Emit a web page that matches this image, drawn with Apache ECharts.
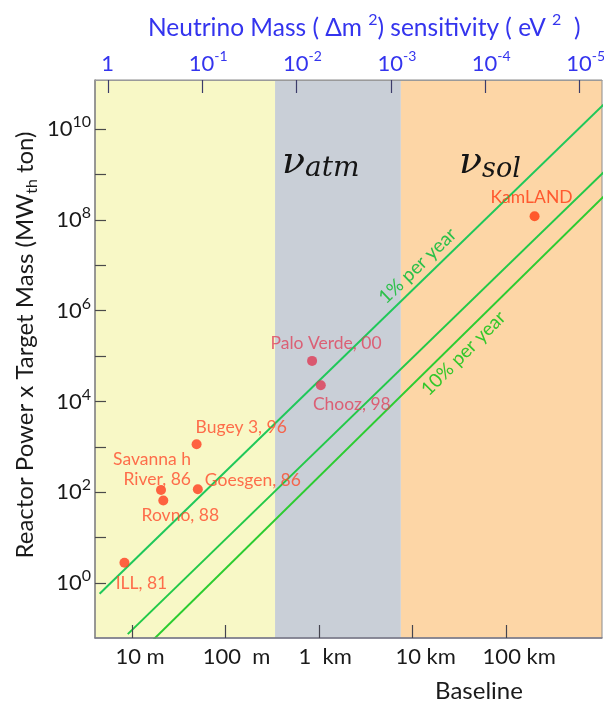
<!DOCTYPE html>
<html>
<head>
<meta charset="utf-8">
<script src="https://cdn.jsdelivr.net/npm/echarts@6/dist/echarts.min.js"></script>
<style>
  html, body { margin: 0; padding: 0; background: #ffffff; }
  #chart { width: 604px; height: 706px; }
</style>
</head>
<body>
<div id="chart"></div>
<script>
// Reactor neutrino experiments: baseline (m) vs reactor power x target mass (MW_th ton)
const experimentNames = ['ILL, 81', 'Savanna h\nRiver, 86', 'Rovno, 88', 'Bugey 3, 96', 'Goesgen, 86', 'Palo Verde, 00', 'Chooz, 98', 'KamLAND'];
const baselines = [8.3, 20.4, 21.6, 49, 50.5, 841, 1042, 201000];
const powerMass = [2.8, 112, 66, 1140, 117, 78200, 22800, 1.2e8];

// Sensitivity lines: [baseline (m), power x mass] end points
const line1pct = [[4.5, 0.58], [1.2e6, 4.1e10]];
const lineMiddle = [[9, 0.075], [1.2e6, 1.33e9]];
const line10pct = [[15.8, 0.0495], [1.2e6, 3.9e8]];
// Positions of the line captions: [baseline (m), power x mass]
const caption1pct = [11300, 9.66e6];
const caption10pct = [34900, 1.14e5];

// Region boundaries along the baseline (m)
const regionEdges = [338, 7480];

// Axis ticks
const baselineTicks = [10, 100, 1000, 10000, 100000];
const baselineTickLabels = ['10 m', '100  m', '1  km', '10 km', '100 km'];
const powerTicks = [1, 1e1, 1e2, 1e3, 1e4, 1e5, 1e6, 1e7, 1e8, 1e9, 1e10];
const powerLabelTicks = [1, 1e2, 1e4, 1e6, 1e8, 1e10];
const dm2Ticks = [1, 1e-1, 1e-2, 1e-3, 1e-4, 1e-5];

// ---- layout and styles ----
const X_MIN = 4.02, X_MAX = 1.057e6;
const Y_MIN = 0.0617, Y_MAX = 1.2e11;
const DM_MIN = 5.79e-6, DM_MAX = 1.365;
const FONT = 'Lato, "Open Sans", sans-serif';
const SERIF = '"DejaVu Serif", "Liberation Serif", serif';
const BLUE = '#3434ee';
const INK = '#1a1a1a';
const pointColors = ['#ff3c1e', '#ff3c1e', '#ff3c1e', '#ff3c1e', '#ff3c1e', '#de3a55', '#de3a55', '#ff3a0e'];
const labelColors = ['#ff4a2a', '#ff4a2a', '#ff4a2a', '#ff4a2a', '#ff4a2a', '#e0445c', '#e0445c', '#ff3a12'];
const labelLayout = [
  { offset: [17, 21], align: 'center' },
  { offset: [30, -21], align: 'right' },
  { offset: [17, 15], align: 'center' },
  { offset: [-1, -17], align: 'left' },
  { offset: [7, -9], align: 'left' },
  { offset: [14, -18], align: 'center' },
  { offset: [31, 19], align: 'center' },
  { offset: [-3, -19], align: 'center' }
];
const bottomLabelShift = [16, 22, 12, 26, 26];

function powLabel(v) {
  const e = Math.round(Math.log10(v));
  return '{b|10}{s|' + e + '}';
}

const bottomRich = {};
bottomLabelShift.forEach(function (p, i) {
  bottomRich['r' + i] = { fontSize: 22, fontFamily: FONT, color: INK, padding: [0, 0, 0, p] };
});

const chart = echarts.init(document.getElementById('chart'), null, { renderer: 'canvas' });

// Bands sit on the base layer; axes, lines and points are drawn on a layer above them.
const TOP = 1;

const option = {
  backgroundColor: '#ffffff',
  animation: false,
  grid: {
    left: 95, right: 2, top: 80, bottom: 68, zlevel: TOP,
    outerBoundsMode: 'none', containLabel: false,
    show: true, borderColor: '#8c8c8c', borderWidth: 1, backgroundColor: 'transparent'
  },
  xAxis: [
    {
      type: 'log', position: 'bottom', min: X_MIN, max: X_MAX, zlevel: TOP, z: 10,
      axisLine: { show: true, lineStyle: { color: '#7a7a8a', width: 1.5 } },
      axisTick: { show: true, inside: true, length: 13, customValues: baselineTicks, lineStyle: { color: '#45454f', width: 1.2 } },
      axisLabel: {
        customValues: baselineTicks, margin: 8,
        formatter: function (v) {
          const i = Math.round(Math.log10(v)) - 1;
          return '{r' + i + '|' + baselineTickLabels[i] + '}';
        },
        rich: bottomRich
      },
      splitLine: { show: false }, minorTick: { show: false }
    },
    {
      type: 'log', position: 'top', inverse: true, min: DM_MIN, max: DM_MAX, zlevel: TOP, z: 10,
      axisLine: { show: true, lineStyle: { color: '#9a9a9a', width: 1 } },
      axisTick: { show: true, inside: true, length: 13, customValues: dm2Ticks, lineStyle: { color: '#3c3c6a', width: 1.2 } },
      axisLabel: {
        customValues: dm2Ticks, margin: 1,
        formatter: function (v) {
          if (Math.abs(v - 1) < 1e-9) return '{b|1}';
          return '{p|10}{s|' + Math.round(Math.log10(v)) + '}';
        },
        rich: {
          b: { fontSize: 22, fontFamily: FONT, color: BLUE, lineHeight: 30 },
          p: { fontSize: 22, fontFamily: FONT, color: BLUE, lineHeight: 30, padding: [0, 0, 0, 12] },
          s: { fontSize: 14, fontFamily: FONT, color: BLUE, lineHeight: 17, verticalAlign: 'top' }
        }
      },
      splitLine: { show: false }
    }
  ],
  yAxis: {
    type: 'log', min: Y_MIN, max: Y_MAX, zlevel: TOP, z: 10,
    axisLine: { show: true, lineStyle: { color: '#8a8a8a', width: 1.5 } },
    axisTick: { show: true, inside: true, length: 11, customValues: powerTicks, lineStyle: { color: '#4a4a4a', width: 1.2 } },
    axisLabel: {
      customValues: powerLabelTicks, margin: 4,
      formatter: powLabel,
      rich: {
        b: { fontSize: 22, fontFamily: FONT, color: INK, lineHeight: 30 },
        s: { fontSize: 16, fontFamily: FONT, color: INK, lineHeight: 18, verticalAlign: 'top' }
      }
    },
    splitLine: { show: false }
  },
  graphic: [
    {
      type: 'text', x: 148, y: 28, z: 10,
      style: {
        text: '{t|Neutrino Mass ( \u0394m }{s|2}{t|) sensitivity ( eV }{s|2}{t|  )}',
        verticalAlign: 'middle',
        rich: {
          t: { fontSize: 24.5, fontFamily: FONT, fill: BLUE, lineHeight: 32 },
          s: { fontSize: 16, fontFamily: FONT, fill: BLUE, lineHeight: 18, verticalAlign: 'top' }
        }
      }
    },
    {
      type: 'text', x: 25, y: 345, rotation: Math.PI / 2, z: 10,
      style: {
        text: '{t|Reactor Power x Target Mass (MW}{u|th}{t| ton)}',
        align: 'center', verticalAlign: 'middle',
        rich: {
          t: { fontSize: 24, fontFamily: FONT, fill: INK, lineHeight: 30 },
          u: { fontSize: 16, fontFamily: FONT, fill: INK, lineHeight: 18, verticalAlign: 'bottom' }
        }
      }
    },
    {
      type: 'text', x: 479, y: 691, z: 10,
      style: { text: 'Baseline', align: 'center', verticalAlign: 'middle', fontSize: 24, fontFamily: FONT, fill: INK }
    },
    {
      type: 'text', x: 282, y: 163, z: 10,
      style: {
        text: '{n|\u03bd}{a|atm}', verticalAlign: 'middle',
        rich: {
          n: { fontSize: 38, fontFamily: SERIF, fontStyle: 'italic', fill: '#151515', lineHeight: 40 },
          a: { fontSize: 28, fontFamily: SERIF, fontStyle: 'italic', fill: '#151515', lineHeight: 22, verticalAlign: 'bottom' }
        }
      }
    },
    {
      type: 'text', x: 459, y: 163, z: 10,
      style: {
        text: '{n|\u03bd}{a|sol}', verticalAlign: 'middle',
        rich: {
          n: { fontSize: 38, fontFamily: SERIF, fontStyle: 'italic', fill: '#151515', lineHeight: 40 },
          a: { fontSize: 27, fontFamily: SERIF, fontStyle: 'italic', fill: '#151515', lineHeight: 22, verticalAlign: 'bottom' }
        }
      }
    }
  ],
  series: [
    {
      // coloured Δm² regions
      type: 'line', data: [], zlevel: 0, z: 1, silent: true,
      markArea: {
        silent: true,
        data: [
          [{ xAxis: X_MIN, itemStyle: { color: '#f8f8c6' } }, { xAxis: regionEdges[0] }],
          [{ xAxis: regionEdges[0], itemStyle: { color: '#c9cfd7' } }, { xAxis: regionEdges[1] }],
          [{ xAxis: regionEdges[1], itemStyle: { color: '#fdd6a6' } }, { xAxis: X_MAX }]
        ]
      }
    },
    {
      type: 'line', data: line1pct, zlevel: TOP, z: 3, showSymbol: false, symbol: 'none',
      lineStyle: { color: '#1fc85a', width: 2 },
      markPoint: {
        symbol: 'circle', symbolSize: 0,
        label: { show: true, position: 'inside', rotate: 44, formatter: '1% per year', fontSize: 19, fontFamily: FONT, color: '#2cc04a' },
        data: [{ coord: caption1pct }]
      }
    },
    {
      type: 'line', data: lineMiddle, zlevel: TOP, z: 3, showSymbol: false, symbol: 'none',
      lineStyle: { color: '#22c948', width: 2 }
    },
    {
      type: 'line', data: line10pct, zlevel: TOP, z: 3, showSymbol: false, symbol: 'none',
      lineStyle: { color: '#2ccc30', width: 2 },
      markPoint: {
        symbol: 'circle', symbolSize: 0,
        label: { show: true, position: 'inside', rotate: 45, formatter: '10% per year', fontSize: 19, fontFamily: FONT, color: '#33c72a' },
        data: [{ coord: caption10pct }]
      }
    },
    {
      type: 'scatter', zlevel: TOP, z: 5, symbolSize: 10,
      data: baselines.map(function (b, i) {
        return {
          value: [b, powerMass[i]],
          itemStyle: { color: pointColors[i] },
          label: {
            show: true, position: 'inside',
            offset: labelLayout[i].offset, align: labelLayout[i].align, verticalAlign: 'middle',
            formatter: experimentNames[i], color: labelColors[i],
            fontSize: 17.5, fontFamily: FONT, lineHeight: 20
          }
        };
      })
    }
  ]
};

chart.setOption(option);
</script>
</body>
</html>
